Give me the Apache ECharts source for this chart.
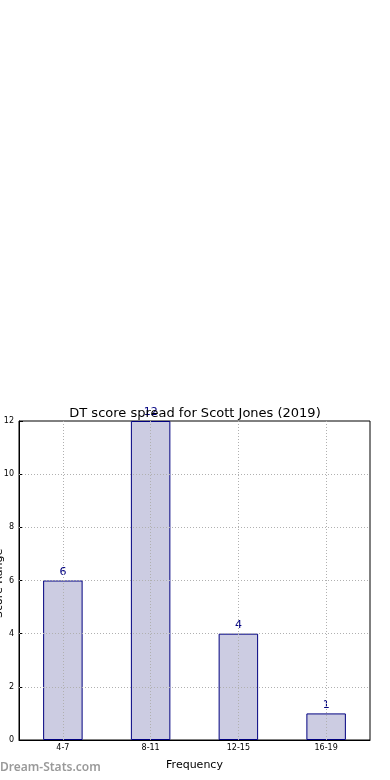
<!DOCTYPE html>
<html><head><meta charset="utf-8">
<script src="https://cdn.jsdelivr.net/npm/echarts@6/dist/echarts.min.js"></script>
<style>html,body{margin:0;padding:0;background:#fff}#c{width:390px;height:780px}</style>
</head><body><div id="c"></div>
<script>
const categories = ['4-7', '8-11', '12-15', '16-19'];
const counts = [6, 12, 4, 1];
const yTicks = [2, 4, 6, 8, 10];

const chart = echarts.init(document.getElementById('c'));
const gridStyle = {color: '#b0b0b0', type: [1, 2], width: 1};
chart.setOption({
  animation: false,
  textStyle: {fontFamily: 'DejaVu Sans'},
  title: {
    text: 'DT score spread for Scott Jones (2019)',
    left: 'center', top: 402,
    textStyle: {fontSize: 13, fontWeight: 'normal', color: '#000', fontFamily: 'DejaVu Sans'}
  },
  graphic: [{
    type: 'text', left: 0, top: 762,
    style: {text: 'Dream-Stats.com', fill: '#9a9a9a', font: '600 12px "Noto Sans"'}
  }, {
    type: 'text', rotation: Math.PI / 2, x: -6, y: 618,
    style: {text: 'Score Range', fill: '#000', font: '11px "DejaVu Sans"'}
  }],
  grid: {left: 19, right: 20, top: 421, bottom: 40, show: true, borderColor: '#000', borderWidth: 1, backgroundColor: 'transparent'},
  xAxis: {
    type: 'category', data: categories,
    name: 'Frequency', nameLocation: 'middle', nameGap: 20,
    nameTextStyle: {fontSize: 11, color: '#000'},
    axisLine: {show: true, lineStyle: {color: '#000'}},
    axisTick: {show: true, inside: true, alignWithLabel: true, length: 4, lineStyle: {color: '#000'}},
    axisLabel: {fontSize: 8, color: '#000', margin: 4},
    splitLine: {show: false}
  },
  yAxis: {
    type: 'value', min: 0, max: 12, interval: 2,
    axisLine: {show: true, lineStyle: {color: '#000'}},
    axisTick: {show: true, inside: true, length: 4, lineStyle: {color: '#000'}},
    axisLabel: {fontSize: 8, color: '#000', margin: 5},
    splitLine: {show: false}
  },
  series: [{
    type: 'bar', data: counts, barWidth: '45%',
    itemStyle: {color: '#ccccE2', borderColor: '#000080', borderWidth: 1},
    label: {show: true, position: 'top', distance: 3, color: '#000080', fontSize: 11},
    z: 2,
    markLine: {
      silent: true, symbol: 'none', label: {show: false},
      lineStyle: gridStyle, z: 3,
      data: categories.map(c => ({xAxis: c})).concat(yTicks.map(v => ({yAxis: v})))
    }
  }]
});
</script></body></html>
